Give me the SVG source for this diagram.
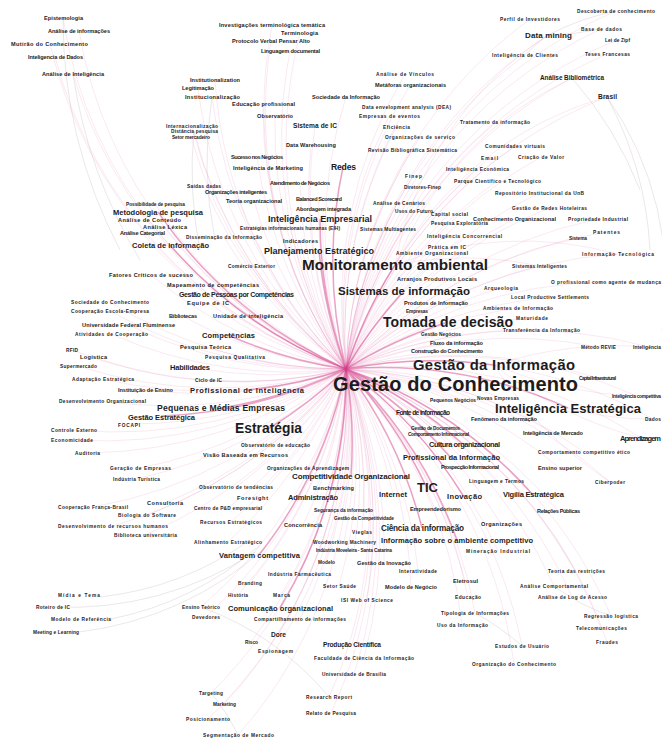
<svg xmlns="http://www.w3.org/2000/svg" width="662" height="744" viewBox="0 0 662 744">
<style>
text{font-family:"Liberation Sans",Arial,sans-serif;font-weight:bold;fill:#1c1c1c}
.s{font-size:5.6px}
.t{font-size:4.8px}
.m{font-size:7.5px}
.k{font-size:9px}
.e{fill:none;stroke:#d8468f;stroke-width:.6;stroke-opacity:.2}
.E{fill:none;stroke:#d0307f;stroke-width:1.5;stroke-opacity:.45}
.g{fill:none;stroke:#c4b4bc;stroke-width:.6;stroke-opacity:.55}
</style>
<rect width="662" height="744" fill="#fff"/>
<g id="edges">
<path class="e" d="M346 369A450 450 0 0 1 63 18M346 369A450 450 0 0 1 79 31M346 369A450 450 0 0 1 50 44M346 369A450 450 0 0 1 55 57M346 369A450 450 0 0 1 73 74M346 369A450 450 0 0 1 272 25M346 369A450 450 0 0 1 300 33M346 369A450 450 0 0 1 271 41M346 369A450 450 0 0 1 290 51M346 369A450 450 0 0 1 215 80M346 369A450 450 0 0 1 198 88M346 369A450 450 0 0 1 212 97M346 369A450 450 0 0 1 263 104M346 369A450 450 0 0 1 346 97M346 369A450 450 0 0 1 275 116M346 369A450 450 0 0 1 315 126M346 369A450 450 0 0 1 192 126M346 369A450 450 0 0 1 194 131M346 369A450 450 0 0 1 191 137M346 369A450 450 0 0 1 311 145M346 369A450 450 0 0 1 257 157M346 369A450 450 0 0 1 268 168M346 369A450 450 0 0 1 300 183M346 369A450 450 0 0 1 204 186M346 369A450 450 0 0 1 236 192M346 369A450 450 0 0 1 254 201M346 369A450 450 0 0 1 319 199M346 369A450 450 0 0 1 323 209M346 369A450 450 0 0 1 290 228M346 369A450 450 0 0 1 224 237M346 369A450 450 0 0 1 300 241M346 369A450 450 0 0 1 251 266M346 369A450 450 0 0 1 437 279M346 369A450 450 0 0 1 436 303M346 369A450 450 0 0 1 417 311M346 369A450 450 0 0 1 441 334M346 369A450 450 0 0 1 456 343M346 369A450 450 0 0 1 447 351M346 369A450 450 0 0 1 597 378M346 369A450 450 0 0 1 453 398M346 369A450 450 0 0 1 497 396M346 369A450 450 0 0 1 423 413M346 369A450 450 0 0 1 504 419M346 369A450 450 0 0 1 435 428M346 369A450 450 0 0 1 438 434M346 369A450 450 0 0 1 553 433M346 369A450 450 0 0 1 641 438M346 369A450 450 0 0 1 584 452M346 369A450 450 0 0 1 470 467M346 369A450 450 0 0 1 560 468M346 369A450 450 0 0 1 496 481M346 369A450 450 0 0 1 610 482M346 369A450 450 0 0 1 435 509M346 369A450 450 0 0 1 558 511M346 369A450 450 0 0 1 501 524M346 369A450 450 0 0 1 498 551M346 369A450 450 0 0 1 155 204M346 369A450 450 0 0 1 149 220M346 369A450 450 0 0 1 165 227M346 369A450 450 0 0 1 142 233M346 369A450 450 0 0 1 151 275M346 369A450 450 0 0 1 212 285M346 369A450 450 0 0 1 236 295M346 369A450 450 0 0 1 208 303M346 369A450 450 0 0 1 110 302M346 369A450 450 0 0 1 110 311M346 369A450 450 0 0 1 183 316M346 369A450 450 0 0 1 248 316M346 369A450 450 0 0 1 128 325M346 369A450 450 0 0 1 111 334M346 369A450 450 0 0 1 205 347M346 369A450 450 0 0 1 235 356M346 369A450 450 0 0 1 72 350M346 369A450 450 0 0 1 93 357M346 369A450 450 0 0 1 78 366M346 369A450 450 0 0 1 190 367M346 369A450 450 0 0 1 103 379M346 369A450 450 0 0 1 208 380M346 369A450 450 0 0 1 145 390M346 369A450 450 0 0 1 102 401M346 369A450 450 0 0 1 129 424M346 369A450 450 0 0 1 74 430M346 369A450 450 0 0 1 72 440M346 369A450 450 0 0 1 87 453M346 369A450 450 0 0 1 275 445M346 369A450 450 0 0 1 245 455M346 369A450 450 0 0 1 308 468M346 369A450 450 0 0 1 140 468M346 369A450 450 0 0 1 136 479M346 369A450 450 0 0 1 236 487M346 369A450 450 0 0 1 333 488M346 369A450 450 0 0 1 252 498M346 369A450 450 0 0 1 313 497M346 369A450 450 0 0 1 393 494M346 369A450 450 0 0 1 165 503M346 369A450 450 0 0 1 93 507M346 369A450 450 0 0 1 147 515M346 369A450 450 0 0 1 228 508M346 369A450 450 0 0 1 343 510M346 369A450 450 0 0 1 364 518M346 369A450 450 0 0 1 113 526M346 369A450 450 0 0 1 231 522M346 369A450 450 0 0 1 303 525M346 369A450 450 0 0 1 362 532M346 369A450 450 0 0 1 145 535M346 369A450 450 0 0 1 228 542M346 369A450 450 0 0 1 344 542M346 369A450 450 0 0 1 354 550M346 369A450 450 0 0 1 326 562M346 369A450 450 0 0 1 384 563M346 369A450 450 0 0 1 418 571M346 369A450 450 0 0 1 299 574M346 369A450 450 0 0 1 250 583M346 369A450 450 0 0 1 339 586M346 369A450 450 0 0 1 411 587M346 369A450 450 0 0 1 465 581M346 369A450 450 0 0 1 576 571M346 369A450 450 0 0 1 554 586M346 369A450 450 0 0 1 572 597M346 369A450 450 0 0 1 238 595M346 369A450 450 0 0 1 281 595M346 369A450 450 0 0 1 367 600M346 369A450 450 0 0 1 468 597M346 369A450 450 0 0 1 201 607M346 369A450 450 0 0 1 611 616M346 369A450 450 0 0 1 475 613M346 369A450 450 0 0 1 206 617M346 369A450 450 0 0 1 300 619M346 369A450 450 0 0 1 462 625M346 369A450 450 0 0 1 601 628M346 369A450 450 0 0 1 278 635M346 369A450 450 0 0 1 607 642M346 369A450 450 0 0 1 251 642M346 369A450 450 0 0 1 352 645M346 369A450 450 0 0 1 275 651M346 369A450 450 0 0 1 522 646M346 369A450 450 0 0 1 364 658M346 369A450 450 0 0 1 514 664M346 369A450 450 0 0 1 354 674M346 369A450 450 0 0 1 211 693M346 369A450 450 0 0 1 329 697M346 369A450 450 0 0 1 224 704M346 369A450 450 0 0 1 331 713M346 369A450 450 0 0 1 208 719M346 369A450 450 0 0 1 238 735M346 369A450 450 0 0 1 616 11M346 369A450 450 0 0 1 530 19M346 369A450 450 0 0 1 601 29M346 369A450 450 0 0 1 548 35M346 369A450 450 0 0 1 617 40M346 369A450 450 0 0 1 525 55M346 369A450 450 0 0 1 607 54M346 369A450 450 0 0 1 572 78M346 369A450 450 0 0 1 607 97M346 369A450 450 0 0 1 405 74M346 369A450 450 0 0 1 410 85M346 369A450 450 0 0 1 406 107M346 369A450 450 0 0 1 389 116M346 369A450 450 0 0 1 396 127M346 369A450 450 0 0 1 420 137M346 369A450 450 0 0 1 412 150M346 369A450 450 0 0 1 495 122M346 369A450 450 0 0 1 515 146M346 369A450 450 0 0 1 489 158M346 369A450 450 0 0 1 541 157M346 369A450 450 0 0 1 477 169M346 369A450 450 0 0 1 497 181M346 369A450 450 0 0 1 413 176M346 369A450 450 0 0 1 422 187M346 369A450 450 0 0 1 539 193M346 369A450 450 0 0 1 398 202M346 369A450 450 0 0 1 414 211M346 369A450 450 0 0 1 449 214M346 369A450 450 0 0 1 459 223M346 369A450 450 0 0 1 388 229M346 369A450 450 0 0 1 549 208M346 369A450 450 0 0 1 514 219M346 369A450 450 0 0 1 598 219M346 369A450 450 0 0 1 464 236M346 369A450 450 0 0 1 606 232M346 369A450 450 0 0 1 578 238M346 369A450 450 0 0 1 447 247M346 369A450 450 0 0 1 432 253M346 369A450 450 0 0 1 618 254M346 369A450 450 0 0 1 539 266M346 369A450 450 0 0 1 501 288M346 369A450 450 0 0 1 606 282M346 369A450 450 0 0 1 550 297M346 369A450 450 0 0 1 518 308M346 369A450 450 0 0 1 532 318M346 369A450 450 0 0 1 541 330M346 369A450 450 0 0 1 598 347M346 369A450 450 0 0 1 649 347M346 369A450 450 0 0 1 637 396M346 369A450 450 0 0 1 653 419"/>
<path class="E" d="M346 369A450 450 0 0 1 395 265M346 369A450 450 0 0 1 404 291M346 369A450 450 0 0 1 448 322M346 369A450 450 0 0 1 494 365M346 369A450 450 0 0 1 568 408M346 369A450 450 0 0 1 268 429M346 369A450 450 0 0 1 319 251M346 369A450 450 0 0 1 320 219M346 369A450 450 0 0 1 228 335M346 369A450 450 0 0 1 427 488M346 369A450 450 0 0 1 422 528M346 369A450 450 0 0 1 451 458M346 369A450 450 0 0 1 464 445M346 369A450 450 0 0 1 351 476M346 369A450 450 0 0 1 221 408M346 369A450 450 0 0 1 343 167M346 369A450 450 0 0 1 247 390M346 369A450 450 0 0 1 457 540M346 369A450 450 0 0 1 533 495M346 369A450 450 0 0 1 464 497M346 369A450 450 0 0 1 280 608M346 369A450 450 0 0 1 259 555M346 369A450 450 0 0 1 161 416M346 369A450 450 0 0 1 170 245M346 369A450 450 0 0 1 158 212"/>
<path class="e" d="M494 365A400 400 0 0 1 649 347M494 365A400 400 0 0 0 637 396M494 365A400 400 0 0 0 641 438M568 408A300 300 0 0 0 653 419M494 365A400 400 0 0 0 610 482M395 265A350 350 0 0 1 607 97M395 265A350 350 0 0 1 572 78M395 265A350 350 0 0 1 548 35M395 265A350 350 0 0 1 617 254M395 265A350 350 0 0 1 539 266"/>
<path class="g" d="M607 97A320 320 0 0 1 662 330M607 97A360 360 0 0 1 650 250M572 78A380 380 0 0 1 640 190M548 35A260 260 0 0 1 616 11M548 35A260 260 0 0 0 601 29M548 35A200 200 0 0 0 525 55M100 597A320 320 0 0 0 250 540M111 619A320 320 0 0 0 260 545M79 632A340 340 0 0 0 265 548M53 607A340 340 0 0 0 255 552M201 607A300 300 0 0 1 329 697M211 693A200 200 0 0 1 238 735M475 613A250 250 0 0 1 522 646M554 586A200 200 0 0 0 611 616M63 18A500 500 0 0 0 120 250M73 74A500 500 0 0 0 140 260M194 131A400 400 0 0 0 200 250M212 97A400 400 0 0 0 215 240"/>
</g>
<g id="n1"><text class="s" x="44" y="20" textLength="39">Epistemologia</text></g>
<g id="n2"><text class="s" x="48" y="33" textLength="62">Análise de informações</text></g>
<g id="n3"><text class="s" x="11" y="46" textLength="77">Mutirão do Conhecimento</text></g>
<g id="n4"><text class="s" x="28" y="59" textLength="55">Inteligencia de Dados</text></g>
<g id="n5"><text class="s" x="42" y="76" textLength="62">Análise de Inteligência</text></g>
<g id="n6"><text class="s" x="219" y="27" textLength="106">Investigações terminológica temática</text></g>
<g id="n7"><text class="s" x="281" y="35" textLength="37">Terminologia</text></g>
<g id="n8"><text class="s" x="232" y="43" textLength="78">Protocolo Verbal Pensar Alto</text></g>
<g id="n9"><text class="s" x="261" y="53" textLength="59">Linguagem documental</text></g>
<g id="n10"><text class="s" x="190" y="82" textLength="50">Institutionalization</text></g>
<g id="n11"><text class="s" x="182" y="90" textLength="32">Legitimação</text></g>
<g id="n12"><text class="s" x="185" y="99" textLength="55">Institucionalização</text></g>
<g id="n13"><text class="s" x="232" y="106" textLength="63">Educação profissional</text></g>
<g id="n14"><text class="s" x="312" y="99" textLength="68">Sociedade da Informação</text></g>
<g id="n15"><text class="s" x="257" y="118" textLength="36">Observatório</text></g>
<g id="n16"><text class="s" x="293" y="128" textLength="44" style="font-size:6.6px">Sistema de IC</text></g>
<g id="n17"><text class="t" x="166" y="128" textLength="52">Internacionalização</text></g>
<g id="n18"><text class="t" x="171" y="133" textLength="47">Distância pesquisa</text></g>
<g id="n19"><text class="t" x="172" y="139" textLength="38">Setor mercadeiro</text></g>
<g id="n20"><text class="s" x="286" y="147" textLength="50">Data Warehousing</text></g>
<g id="n21"><text class="s" x="231" y="159" textLength="52">Sucesso nos Negócios</text></g>
<g id="n22"><text class="s" x="233" y="170" textLength="70">Inteligência de Marketing</text></g>
<g id="n23"><text x="331" y="170" textLength="25" style="font-size:8.6px">Redes</text></g>
<g id="n24"><text class="s" x="270" y="185" textLength="60">Atendimento de Negócios</text></g>
<g id="n25"><text class="t" x="187" y="188" textLength="34">Saídas dadas</text></g>
<g id="n26"><text class="s" x="205" y="194" textLength="62">Organizações inteligentes</text></g>
<g id="n27"><text class="s" x="226" y="203" textLength="56">Teoria organizacional</text></g>
<g id="n28"><text class="s" x="296" y="201" textLength="46">Balanced Scorecard</text></g>
<g id="n29"><text class="s" x="296" y="211" textLength="55">Abordagem integrada</text></g>
<g id="n30"><text class="k" x="268" y="222" textLength="104">Inteligência Empresarial</text></g>
<g id="n31"><text class="t" x="240" y="230" textLength="100">Estratégias informacionais humanas (EIH)</text></g>
<g id="n32"><text class="t" x="186" y="239" textLength="76">Disseminação da Informação</text></g>
<g id="n33"><text class="s" x="283" y="243" textLength="35">Indicadores</text></g>
<g id="n34"><text class="k" x="264" y="254" textLength="110">Planejamento Estratégico</text></g>
<g id="n35"><text class="t" x="228" y="268" textLength="47">Comércio Exterior</text></g>
<g id="n36"><text x="302" y="270" textLength="186" style="font-size:15.3px">Monitoramento ambiental</text></g>
<g id="n37"><text class="s" x="397" y="281" textLength="80">Arranjos Produtivos Locais</text></g>
<g id="n38"><text x="338" y="295" textLength="132" style="font-size:11.5px">Sistemas de informação</text></g>
<g id="n39"><text class="s" x="404" y="305" textLength="64">Produtos de Informação</text></g>
<g id="n40"><text class="t" x="406" y="313" textLength="22">Empresas</text></g>
<g id="n41"><text x="383" y="327" textLength="130" style="font-size:14px">Tomada de decisão</text></g>
<g id="n42"><text class="t" x="421" y="336" textLength="40">Gestão Negócios</text></g>
<g id="n43"><text class="s" x="430" y="345" textLength="53">Fluxo da informação</text></g>
<g id="n44"><text class="s" x="411" y="353" textLength="72">Construção do Conhecimento</text></g>
<g id="n45"><text x="413" y="369.5" textLength="162" style="font-size:14.8px">Gestão da Informação</text></g>
<g id="n46"><text x="333" y="391" textLength="245" style="font-size:20px">Gestão do Conhecimento</text></g>
<g id="n47"><text class="t" x="579" y="380" textLength="37">Capital Infraestrutural</text></g>
<g id="n48"><text class="t" x="430" y="401.5" textLength="46">Pequenos Negócios</text></g>
<g id="n49"><text class="t" x="477" y="399.5" textLength="42">Novas Empresas</text></g>
<g id="n50"><text x="495" y="412.5" textLength="146" style="font-size:13px">Inteligência Estratégica</text></g>
<g id="n51"><text x="396" y="415" textLength="54" style="font-size:6.6px">Fonte de informação</text></g>
<g id="n52"><text class="s" x="471" y="421" textLength="66">Fenômeno da informação</text></g>
<g id="n53"><text class="t" x="411" y="430" textLength="49">Gestão de Documentos</text></g>
<g id="n54"><text class="t" x="408" y="436" textLength="61">Comportamento Informacional</text></g>
<g id="n55"><text class="s" x="523" y="435" textLength="60">Inteligência de Mercado</text></g>
<g id="n56"><text class="m" x="620" y="441" textLength="41">Aprendizagem</text></g>
<g id="n57"><text class="m" x="429" y="447" textLength="71">Cultura organizacional</text></g>
<g id="n58"><text class="t" x="538" y="454" textLength="92">Comportamento competitivo ético</text></g>
<g id="n59"><text class="m" x="403" y="460" textLength="97">Profissional da Informação</text></g>
<g id="n60"><text class="s" x="441" y="469" textLength="58">Prospecção Informacional</text></g>
<g id="n61"><text class="s" x="538" y="470" textLength="44">Ensino superior</text></g>
<g id="n62"><text class="t" x="469" y="483" textLength="55">Linguagem e Termos</text></g>
<g id="n63"><text class="t" x="595" y="484" textLength="30">Ciberpoder</text></g>
<g id="n64"><text x="417" y="492" textLength="21" style="font-size:13px">TIC</text></g>
<g id="n65"><text class="m" x="447" y="499" textLength="35">Inovação</text></g>
<g id="n66"><text class="m" x="503" y="497" textLength="61">Vigília Estratégica</text></g>
<g id="n67"><text class="s" x="410" y="511" textLength="51">Empreendedorismo</text></g>
<g id="n68"><text class="s" x="537" y="513" textLength="43">Relações Públicas</text></g>
<g id="n69"><text x="381" y="531" textLength="83" style="font-size:8.2px">Ciência da informação</text></g>
<g id="n70"><text class="s" x="481" y="526" textLength="41">Organizações</text></g>
<g id="n71"><text class="m" x="381" y="543" textLength="152">Informação sobre o ambiente competitivo</text></g>
<g id="n72"><text class="t" x="466" y="553" textLength="64">Mineração Industrial</text></g>
<g id="n73"><text class="t" x="126" y="206" textLength="59">Possibilidade de pesquisa</text></g>
<g id="n74"><text class="m" x="113" y="215" textLength="90">Metodologia de pesquisa</text></g>
<g id="n75"><text class="s" x="118" y="222" textLength="63">Análise de Conteúdo</text></g>
<g id="n76"><text class="s" x="143" y="229" textLength="44">Análise Léxica</text></g>
<g id="n77"><text class="s" x="120" y="235" textLength="45">Análise Categorial</text></g>
<g id="n78"><text class="m" x="132" y="248" textLength="77">Coleta de informação</text></g>
<g id="n79"><text class="s" x="109" y="277" textLength="84">Fatores Críticos de sucesso</text></g>
<g id="n80"><text class="s" x="167" y="287" textLength="92">Mapeamento de competências</text></g>
<g id="n81"><text x="179" y="297" textLength="115" style="font-size:7px">Gestão de Pessoas por Competências</text></g>
<g id="n82"><text class="s" x="187" y="305" textLength="42">Equipe de IC</text></g>
<g id="n83"><text class="t" x="71" y="304" textLength="78">Sociedade do Conhecimento</text></g>
<g id="n84"><text class="t" x="71" y="313" textLength="78">Cooperação Escola-Empresa</text></g>
<g id="n85"><text class="s" x="169" y="318" textLength="28">Bibliotecas</text></g>
<g id="n86"><text class="s" x="213" y="318" textLength="70">Unidade de inteligência</text></g>
<g id="n87"><text class="s" x="82" y="327" textLength="93">Universidade Federal Fluminense</text></g>
<g id="n88"><text class="t" x="75" y="336" textLength="73">Atividades de Cooperação</text></g>
<g id="n89"><text class="m" x="202" y="338" textLength="53">Competências</text></g>
<g id="n90"><text class="s" x="180" y="349" textLength="51">Pesquisa Teórica</text></g>
<g id="n91"><text class="t" x="205" y="359" textLength="60">Pesquisa Qualitativa</text></g>
<g id="n92"><text class="t" x="66" y="352" textLength="12">RFID</text></g>
<g id="n93"><text class="s" x="80" y="359" textLength="27">Logística</text></g>
<g id="n94"><text class="t" x="60" y="368" textLength="37">Supermercado</text></g>
<g id="n95"><text class="m" x="170" y="370" textLength="40">Habilidades</text></g>
<g id="n96"><text class="t" x="72" y="381" textLength="62">Adaptação Estratégica</text></g>
<g id="n97"><text class="t" x="195" y="382" textLength="27">Ciclo de IC</text></g>
<g id="n98"><text class="s" x="118" y="392" textLength="55">Instituição de Ensino</text></g>
<g id="n99"><text class="m" x="190" y="393" textLength="114">Profissional de Inteligência</text></g>
<g id="n100"><text class="t" x="59" y="403" textLength="87">Desenvolvimento Organizacional</text></g>
<g id="n101"><text x="157" y="411" textLength="128" style="font-size:8.6px">Pequenas e Médias Empresas</text></g>
<g id="n102"><text class="m" x="128" y="419.5" textLength="67">Gestão Estratégica</text></g>
<g id="n103"><text x="235" y="433" textLength="67" style="font-size:13.8px">Estratégia</text></g>
<g id="n104"><text class="t" x="118" y="426.5" textLength="22">FOCAPI</text></g>
<g id="n105"><text class="t" x="51" y="432" textLength="46">Controle Externo</text></g>
<g id="n106"><text class="t" x="51" y="442" textLength="42">Economicidade</text></g>
<g id="n107"><text class="t" x="75" y="455" textLength="25">Auditoria</text></g>
<g id="n108"><text class="t" x="241" y="447" textLength="69">Observatório de educação</text></g>
<g id="n109"><text class="s" x="203" y="457" textLength="85">Visão Baseada em Recursos</text></g>
<g id="n110"><text class="t" x="267" y="470" textLength="82">Organizações de Aprendizagem</text></g>
<g id="n111"><text class="t" x="110" y="470" textLength="61">Geração de Empresas</text></g>
<g id="n112"><text class="t" x="113" y="481" textLength="47">Indústria Turística</text></g>
<g id="n113"><text x="292" y="479" textLength="118" style="font-size:8px">Competitividade Organizacional</text></g>
<g id="n114"><text class="t" x="199" y="489" textLength="74">Observatório de tendências</text></g>
<g id="n115"><text class="s" x="313" y="490" textLength="41">Benchmarking</text></g>
<g id="n116"><text class="s" x="237" y="500" textLength="31">Foresight</text></g>
<g id="n117"><text class="m" x="288" y="500" textLength="50">Administração</text></g>
<g id="n118"><text class="m" x="379" y="497" textLength="28">Internet</text></g>
<g id="n119"><text class="s" x="147" y="505" textLength="36">Consultoria</text></g>
<g id="n120"><text class="t" x="58" y="509" textLength="70">Cooperação França-Brasil</text></g>
<g id="n121"><text class="t" x="118" y="517" textLength="58">Biologia do Software</text></g>
<g id="n122"><text class="t" x="194" y="510" textLength="68">Centro de P&amp;D empresarial</text></g>
<g id="n123"><text class="t" x="314" y="512" textLength="59">Segurança da informação</text></g>
<g id="n124"><text class="t" x="334" y="520" textLength="60">Gestão da Competitividade</text></g>
<g id="n125"><text class="t" x="58" y="528" textLength="110">Desenvolvimento de recursos humanos</text></g>
<g id="n126"><text class="t" x="200" y="524" textLength="62">Recursos Estratégicos</text></g>
<g id="n127"><text class="s" x="284" y="527" textLength="38">Concorrência</text></g>
<g id="n128"><text class="t" x="352" y="534" textLength="20">Vieglas</text></g>
<g id="n129"><text class="t" x="114" y="537" textLength="63">Biblioteca universitária</text></g>
<g id="n130"><text class="t" x="194" y="544" textLength="68">Alinhamento Estratégico</text></g>
<g id="n131"><text class="t" x="313" y="544" textLength="63">Woodworking Machinery</text></g>
<g id="n132"><text class="t" x="316" y="552" textLength="76">Indústria Moveleira - Santa Catarina</text></g>
<g id="n133"><text class="m" x="219" y="558" textLength="81">Vantagem competitiva</text></g>
<g id="n134"><text class="t" x="318" y="564" textLength="17">Modelo</text></g>
<g id="n135"><text class="s" x="357" y="565" textLength="54">Gestão da Inovação</text></g>
<g id="n136"><text class="t" x="399" y="573" textLength="38">Interatividade</text></g>
<g id="n137"><text class="t" x="268" y="576" textLength="63">Indústria Farmacêutica</text></g>
<g id="n138"><text class="t" x="238" y="585" textLength="24">Branding</text></g>
<g id="n139"><text class="t" x="323" y="588" textLength="33">Setor Saúde</text></g>
<g id="n140"><text class="s" x="385" y="589" textLength="52">Modelo de Negócio</text></g>
<g id="n141"><text class="s" x="453" y="583" textLength="25">Eletrosul</text></g>
<g id="n142"><text class="t" x="548" y="573" textLength="57">Teoria das restrições</text></g>
<g id="n143"><text class="t" x="520" y="588" textLength="68">Análise Comportamental</text></g>
<g id="n144"><text class="t" x="538" y="599" textLength="69">Análise de Log de Acesso</text></g>
<g id="n145"><text class="t" x="228" y="597" textLength="20">História</text></g>
<g id="n146"><text class="t" x="273" y="597" textLength="17">Marca</text></g>
<g id="n147"><text class="t" x="341" y="602" textLength="52">ISI Web of Science</text></g>
<g id="n148"><text class="t" x="455" y="599" textLength="26">Educação</text></g>
<g id="n149"><text class="t" x="182" y="609" textLength="38">Ensino Teórico</text></g>
<g id="n150"><text class="m" x="228" y="611" textLength="105">Comunicação organizacional</text></g>
<g id="n151"><text class="t" x="584" y="618" textLength="54">Regressão logística</text></g>
<g id="n152"><text class="t" x="441" y="615" textLength="68">Tipologia de Informações</text></g>
<g id="n153"><text class="t" x="192" y="619" textLength="28">Devedores</text></g>
<g id="n154"><text class="t" x="254" y="621" textLength="92">Compartilhamento de informações</text></g>
<g id="n155"><text class="t" x="437" y="627" textLength="51">Uso da Informação</text></g>
<g id="n156"><text class="t" x="576" y="630" textLength="51">Telecomunicações</text></g>
<g id="n157"><text x="271" y="637" textLength="15" style="font-size:6.6px">Dore</text></g>
<g id="n158"><text class="t" x="596" y="644" textLength="22">Fraudes</text></g>
<g id="n159"><text class="t" x="245" y="644" textLength="13">Risco</text></g>
<g id="n160"><text x="323" y="647" textLength="58" style="font-size:6.6px">Produção Científica</text></g>
<g id="n161"><text class="t" x="258" y="653" textLength="35">Espionagem</text></g>
<g id="n162"><text class="t" x="495" y="648" textLength="54">Estudos de Usuário</text></g>
<g id="n163"><text class="t" x="314" y="660" textLength="100">Faculdade de Ciência da Informação</text></g>
<g id="n164"><text class="t" x="472" y="666" textLength="84">Organização do Conhecimento</text></g>
<g id="n165"><text class="t" x="322" y="676" textLength="64">Universidade de Brasília</text></g>
<g id="n166"><text class="t" x="199" y="695" textLength="24">Targeting</text></g>
<g id="n167"><text class="t" x="306" y="699" textLength="46">Research Report</text></g>
<g id="n168"><text class="t" x="213" y="706" textLength="23">Marketing</text></g>
<g id="n169"><text class="t" x="306" y="715" textLength="50">Relato de Pesquisa</text></g>
<g id="n170"><text class="t" x="186" y="721" textLength="44">Posicionamento</text></g>
<g id="n171"><text class="t" x="203" y="737" textLength="71">Segmentação de Mercado</text></g>
<g id="n172"><text class="t" x="58" y="597" textLength="42">Mídia e Tema</text></g>
<g id="n173"><text class="t" x="36" y="609" textLength="34">Roteiro de IC</text></g>
<g id="n174"><text class="t" x="51" y="621" textLength="60">Modelo de Referência</text></g>
<g id="n175"><text class="t" x="33" y="634" textLength="46">Meeting e Learning</text></g>
<g id="n176"><text class="t" x="577" y="13" textLength="78">Descoberta de conhecimento</text></g>
<g id="n177"><text class="t" x="500" y="21" textLength="60">Perfil de Investidores</text></g>
<g id="n178"><text class="t" x="581" y="31" textLength="41">Base de dados</text></g>
<g id="n179"><text x="525" y="38" textLength="47" style="font-size:8px">Data mining</text></g>
<g id="n180"><text class="t" x="605" y="42" textLength="25">Lei de Zipf</text></g>
<g id="n181"><text class="t" x="492" y="57" textLength="66">Inteligência de Clientes</text></g>
<g id="n182"><text class="t" x="585" y="56" textLength="45">Teses Francesas</text></g>
<g id="n183"><text x="540" y="80" textLength="64" style="font-size:6.4px">Análise Bibliométrica</text></g>
<g id="n184"><text x="598" y="99" textLength="19" style="font-size:6.6px">Brasil</text></g>
<g id="n185"><text class="t" x="376" y="76" textLength="58">Análise de Vínculos</text></g>
<g id="n186"><text class="s" x="375" y="87" textLength="71">Metáforas organizacionais</text></g>
<g id="n187"><text class="t" x="362" y="109" textLength="89">Data envelopment analysis (DEA)</text></g>
<g id="n188"><text class="t" x="359" y="118" textLength="61">Empresas de eventos</text></g>
<g id="n189"><text class="t" x="383" y="129" textLength="27">Eficiência</text></g>
<g id="n190"><text class="t" x="385" y="139" textLength="70">Organizações de serviço</text></g>
<g id="n191"><text class="t" x="368" y="152" textLength="89">Revisão Bibliográfica Sistemática</text></g>
<g id="n192"><text class="t" x="460" y="124" textLength="70">Tratamento da informação</text></g>
<g id="n193"><text class="t" x="485" y="148" textLength="60">Comunidades virtuais</text></g>
<g id="n194"><text class="t" x="481" y="160" textLength="17">Email</text></g>
<g id="n195"><text class="t" x="518" y="159" textLength="46">Criação de Valor</text></g>
<g id="n196"><text class="t" x="446" y="171" textLength="63">Inteligência Econômica</text></g>
<g id="n197"><text class="t" x="454" y="183" textLength="87">Parque Científico e Tecnológico</text></g>
<g id="n198"><text class="t" x="405" y="178" textLength="17">Finep</text></g>
<g id="n199"><text class="t" x="404" y="189" textLength="37">Diretores-Finep</text></g>
<g id="n200"><text class="t" x="495" y="195" textLength="89">Repositório Institucional da UnB</text></g>
<g id="n201"><text class="t" x="373" y="205" textLength="52">Análise de Cenários</text></g>
<g id="n202"><text class="t" x="395" y="213" textLength="38">Usos do Futuro</text></g>
<g id="n203"><text class="t" x="431" y="216" textLength="37">Capital social</text></g>
<g id="n204"><text class="t" x="431" y="225" textLength="57">Pesquisa Exploratória</text></g>
<g id="n205"><text class="t" x="360" y="231" textLength="56">Sistemas Multiagentes</text></g>
<g id="n206"><text class="t" x="512" y="210" textLength="75">Gestão de Redes Hoteleiras</text></g>
<g id="n207"><text class="s" x="473" y="221" textLength="83">Conhecimento Organizacional</text></g>
<g id="n208"><text class="t" x="568" y="221" textLength="60">Propriedade Industrial</text></g>
<g id="n209"><text class="t" x="427" y="238" textLength="75">Inteligência Concorrencial</text></g>
<g id="n210"><text class="t" x="593" y="234" textLength="27">Patentes</text></g>
<g id="n211"><text class="t" x="569" y="240" textLength="18">Sistema</text></g>
<g id="n212"><text class="t" x="428" y="248.5" textLength="38">Prática em IC</text></g>
<g id="n213"><text class="t" x="396" y="255" textLength="72">Ambiente Organizacional</text></g>
<g id="n214"><text class="t" x="582" y="256" textLength="72">Informação Tecnológica</text></g>
<g id="n215"><text class="t" x="512" y="268" textLength="55">Sistemas Inteligentes</text></g>
<g id="n216"><text class="t" x="484" y="290" textLength="34">Arqueologia</text></g>
<g id="n217"><text class="t" x="551" y="284" textLength="110">O profissional como agente de mudança</text></g>
<g id="n218"><text class="t" x="511" y="299" textLength="78">Local Productive Settlements</text></g>
<g id="n219"><text class="t" x="483" y="310" textLength="70">Ambientes de Informação</text></g>
<g id="n220"><text class="t" x="516" y="320" textLength="32">Maturidade</text></g>
<g id="n221"><text class="t" x="503" y="332" textLength="77">Transferência da Informação</text></g>
<g id="n222"><text class="t" x="581" y="349" textLength="35">Método REVIE</text></g>
<g id="n223"><text class="t" x="633" y="349" textLength="28">Inteligência</text></g>
<g id="n224"><text class="t" x="612" y="398" textLength="49">Inteligência competitiva</text></g>
<g id="n225"><text class="t" x="645" y="421" textLength="16">Dados</text></g>
</svg>
